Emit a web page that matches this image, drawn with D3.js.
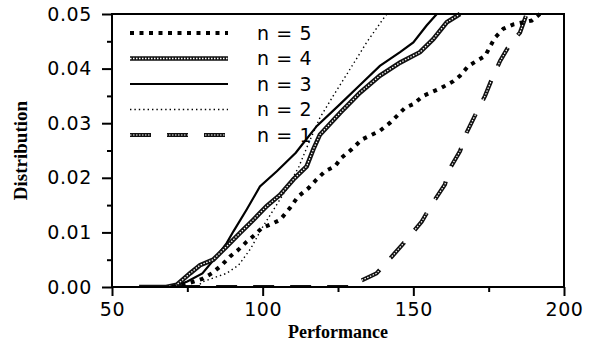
<!DOCTYPE html>
<html>
<head>
<meta charset="utf-8">
<script src="https://cdn.jsdelivr.net/npm/d3@7"></script>
<style>
  body { margin: 0; background: #fff; }
  svg { display: block; }
</style>
</head>
<body>
<div id="chart"></div>
<script>
// performance values (x) and distribution values (y) for each n
const seriesNames = ['n = 5', 'n = 4', 'n = 3', 'n = 2', 'n = 1']

const n5Perf = [70, 76, 80, 83.1, 86.4, 89.2, 91.9, 94.7, 97.5, 99.7, 102.4, 105.8, 109.1, 111.8, 115.2, 117.9, 120.7, 124, 126.2, 129.5, 132.9, 138.9, 142.3, 144.5, 147.2, 150, 153.3, 156.1, 159.4, 163.3, 165.5, 168.3, 171, 173.8, 177, 179.9, 183.2, 189.3, 192]
const n5Dist = [0, 0.0008, 0.0015, 0.0025, 0.004, 0.0056, 0.0068, 0.0083, 0.0096, 0.0108, 0.0114, 0.0123, 0.0145, 0.0166, 0.0181, 0.0197, 0.0212, 0.0221, 0.0237, 0.0252, 0.027, 0.0286, 0.0301, 0.0313, 0.0328, 0.0335, 0.035, 0.0357, 0.0365, 0.0377, 0.0387, 0.0405, 0.0414, 0.0423, 0.0456, 0.0473, 0.0481, 0.0488, 0.05]

const n4Perf = [59, 68, 71.5, 75.9, 79.2, 83.6, 88, 92.5, 96.9, 101.3, 105.8, 110.2, 114.6, 116.8, 119, 125.7, 132.3, 138.9, 145.6, 152.2, 156.6, 161.1, 165.5]
const n4Dist = [0, 0, 0.0004, 0.0025, 0.004, 0.005, 0.0074, 0.0099, 0.0123, 0.0148, 0.0169, 0.0197, 0.0221, 0.0252, 0.0279, 0.0319, 0.0356, 0.0387, 0.0411, 0.043, 0.0454, 0.0485, 0.05]

const n3Perf = [70, 75, 80, 84.7, 88, 90.3, 94.7, 99.1, 104.7, 111, 113, 118, 125.7, 132.3, 138.9, 145.6, 150, 154.4, 157.8]
const n3Dist = [0, 0.001, 0.0025, 0.0056, 0.008, 0.0102, 0.0142, 0.0184, 0.0212, 0.0246, 0.026, 0.0295, 0.0335, 0.037, 0.0405, 0.043, 0.0448, 0.0479, 0.05]

const n2Perf = [78, 80.3, 88, 92, 96, 100, 104, 108, 112, 115, 119, 123.4, 129, 134.5, 140, 141.2]
const n2Dist = [0, 0.001, 0.0025, 0.004, 0.007, 0.011, 0.0145, 0.018, 0.022, 0.026, 0.031, 0.035, 0.0399, 0.0448, 0.0491, 0.05]

const n1Perf = [60, 130, 132, 137.8, 143.4, 148.3, 152.8, 156.1, 160.5, 161.6, 165.5, 167.7, 171, 173.8, 176, 178.8, 182.1, 185.4, 187.6]
const n1Dist = [0, 0, 0.001, 0.0025, 0.0059, 0.009, 0.012, 0.0151, 0.0188, 0.0212, 0.0249, 0.0283, 0.032, 0.035, 0.038, 0.0414, 0.0445, 0.0466, 0.05]

const xTicks = [50, 100, 150, 200]
const xMinorTicks = [75, 125, 175]
const yTicks = [0, 0.01, 0.02, 0.03, 0.04, 0.05]
const yMinorTicks = [0.005, 0.015, 0.025, 0.035, 0.045]

const margin = { top: 14, left: 112, right: 33, bottom: 65 }
const width = 597 - margin.left - margin.right
const height = 352 - margin.top - margin.bottom

const svg = d3
  .select('#chart')
  .append('svg')
  .attr('width', 597)
  .attr('height', 352)
  .append('g')
  .attr('transform', 'translate(' + margin.left + ',' + margin.top + ')')

const xPositionScale = d3.scaleLinear().domain([50, 200]).range([0, width])
const yPositionScale = d3.scaleLinear().domain([0, 0.05]).range([height, 0])

function zip (xs, ys) {
  return xs.map((x, i) => ({ perf: x, dist: ys[i] }))
}

// styles: each entry is a list of stroke layers drawn on top of each other
const styles = {
  'n = 5': [{ stroke: '#000', width: 4, dash: '4,5.5' }],
  'n = 4': [{ stroke: '#111', width: 4.6, dash: null }, { stroke: '#fff', width: 1.3, dash: '1.5,1.5' }],
  'n = 3': [{ stroke: '#000', width: 2.2, dash: null }],
  'n = 2': [{ stroke: '#000', width: 1.4, dash: '1.4,3' }],
  'n = 1': [{ stroke: '#111', width: 4.2, dash: '21,16' }, { stroke: '#fff', width: 1.2, dash: '1.5,1.5' }]
}

const series = [
  { name: 'n = 1', values: zip(n1Perf, n1Dist) },
  { name: 'n = 2', values: zip(n2Perf, n2Dist) },
  { name: 'n = 3', values: zip(n3Perf, n3Dist) },
  { name: 'n = 4', values: zip(n4Perf, n4Dist) },
  { name: 'n = 5', values: zip(n5Perf, n5Dist) }
]

const line = d3
  .line()
  .x(d => xPositionScale(d.perf))
  .y(d => yPositionScale(d.dist))

svg.append('clipPath')
  .attr('id', 'plot-clip')
  .append('rect')
  .attr('x', 0)
  .attr('y', -3)
  .attr('width', width)
  .attr('height', height + 3)

const lines = svg.append('g').attr('clip-path', 'url(#plot-clip)')

series.forEach(s => {
  styles[s.name].forEach(st => {
    lines.append('path')
      .datum(s.values)
      .attr('d', line)
      .attr('fill', 'none')
      .attr('stroke', st.stroke)
      .attr('stroke-width', st.width)
      .attr('stroke-dasharray', st.dash)
  })
})

// frame
svg.append('rect')
  .attr('x', 0)
  .attr('y', 0)
  .attr('width', width)
  .attr('height', height)
  .attr('fill', 'none')
  .attr('stroke', '#000')
  .attr('stroke-width', 2)

// axes
const xAxis = d3.axisBottom(xPositionScale)
  .tickValues(xTicks)
  .tickSize(9)
  .tickPadding(7)
  .tickFormat(d3.format('d'))
svg.append('g')
  .attr('class', 'axis x-axis')
  .attr('transform', 'translate(0,' + height + ')')
  .call(xAxis)

svg.append('g')
  .attr('transform', 'translate(0,' + height + ')')
  .call(d3.axisBottom(xPositionScale).tickValues(xMinorTicks).tickSize(5).tickFormat(''))

const yAxis = d3.axisLeft(yPositionScale)
  .tickValues(yTicks)
  .tickSize(10)
  .tickPadding(10)
  .tickFormat(d3.format('.2f'))
svg.append('g')
  .attr('class', 'axis y-axis')
  .call(yAxis)

svg.append('g')
  .call(d3.axisLeft(yPositionScale).tickValues(yMinorTicks).tickSize(5).tickFormat(''))

svg.selectAll('.domain').remove()
svg.selectAll('.tick line').attr('stroke', '#000').attr('stroke-width', 2)
svg.selectAll('.tick text')
  .attr('fill', '#000')
  .attr('font-family', 'DejaVu Sans')
  .attr('font-size', 19)
  .attr('letter-spacing', 0.6)

// axis titles
svg.append('text')
  .attr('transform', 'rotate(-90)')
  .attr('x', -height / 2)
  .attr('y', -margin.left + 27)
  .attr('font-family', 'Liberation Serif')
  .attr('font-weight', 'bold')
  .attr('font-size', 19)
  .attr('text-anchor', 'middle')
  .text('Distribution')

svg.append('text')
  .attr('x', width / 2)
  .attr('y', height + 51)
  .attr('font-family', 'Liberation Serif')
  .attr('font-weight', 'bold')
  .attr('font-size', 18)
  .attr('text-anchor', 'middle')
  .text('Performance')

// legend
const legend = svg.append('g').attr('transform', 'translate(18,19)')
seriesNames.forEach((name, i) => {
  const row = legend.append('g').attr('transform', 'translate(0,' + (i * 25.5) + ')')
  styles[name].forEach(st => {
    row.append('line')
      .attr('x1', 0)
      .attr('x2', 98)
      .attr('y1', 0)
      .attr('y2', 0)
      .attr('stroke', st.stroke)
      .attr('stroke-width', st.width)
      .attr('stroke-dasharray', st.dash)
  })
  row.append('text')
    .attr('x', 127)
    .attr('y', 0)
    .attr('dy', '0.36em')
    .attr('font-family', 'DejaVu Sans')
    .attr('font-size', 19)
    .attr('letter-spacing', 0.6)
    .text(name)
})
</script>
</body>
</html>
